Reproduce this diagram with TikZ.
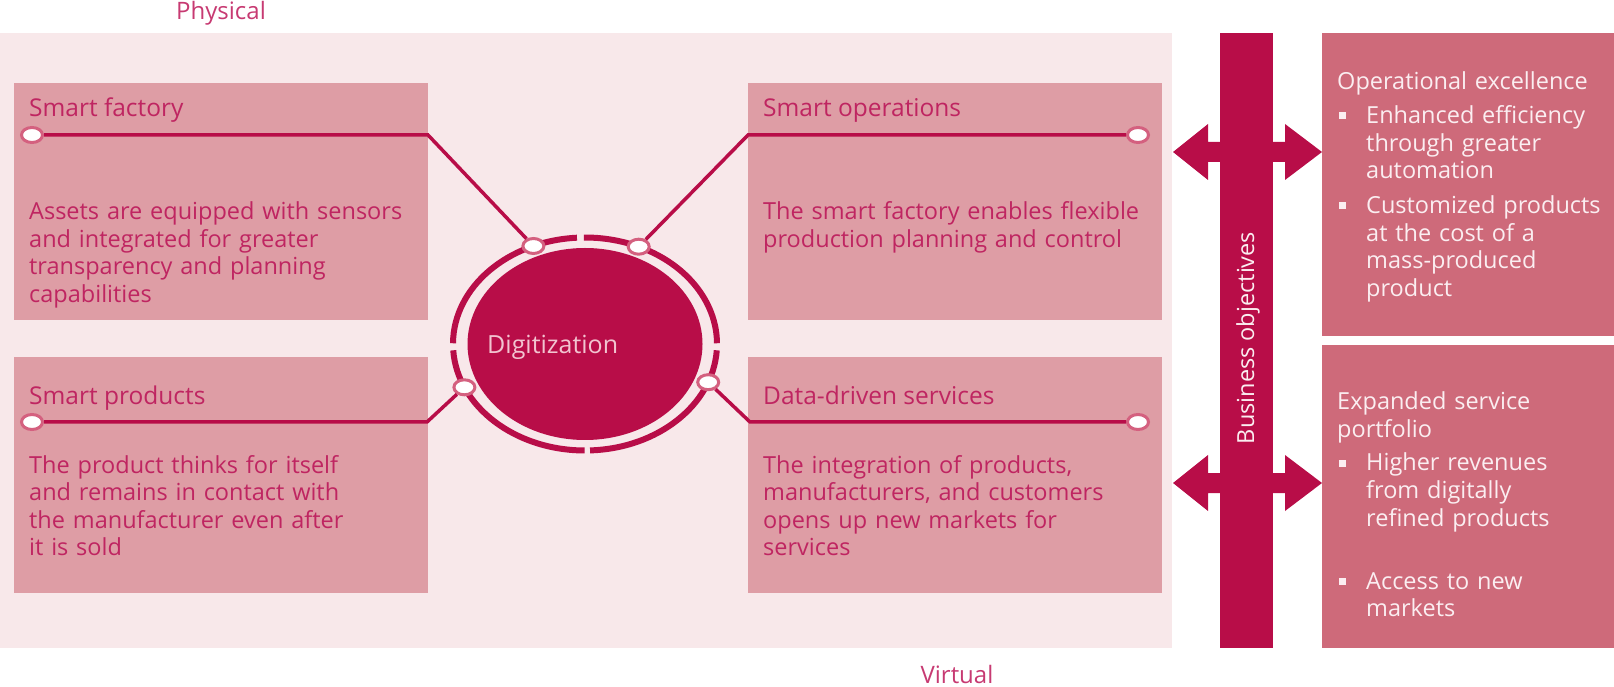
\documentclass[tikz,border=0pt]{standalone}
\usepackage{fontspec}
\setmainfont{Open Sans}
\usetikzlibrary{shapes.geometric}
\definecolor{bgpale}{HTML}{F8E8EA}
\definecolor{boxpink}{HTML}{DE9DA5}
\definecolor{dark}{HTML}{B80D48}
\definecolor{rightbox}{HTML}{CE6A7A}
\definecolor{txtpink}{HTML}{BF2561}
\definecolor{lblpink}{HTML}{C73A72}
\definecolor{dotline}{HTML}{D4607F}
\definecolor{wtxt}{HTML}{FBEEF1}
\definecolor{digtxt}{HTML}{F2C4D0}
\begin{document}
\begin{tikzpicture}[x=1pt,y=1pt,
  panel/.style={fill=boxpink, inner sep=0pt, outer sep=0pt, minimum width=414pt, minimum height=237pt, anchor=south west},
  rpanel/.style={fill=rightbox, inner sep=0pt, outer sep=0pt, minimum width=292pt, minimum height=303pt, anchor=south west},
  ttl/.style={anchor=base west, inner sep=0pt, text=txtpink, font=\fontsize{24.5}{28}\selectfont},
  body/.style={anchor=base west, inner sep=0pt, text=txtpink, text width=420pt, align=left, font=\fontsize{23.5}{27.5}\selectfont},
  wbody/.style={anchor=base west, inner sep=0pt, text=wtxt, text width=280pt, align=left, font=\fontsize{23.5}{27.5}\selectfont},
  lbl/.style={anchor=base, inner sep=0pt, text=lblpink, font=\fontsize{24}{28}\selectfont},
  conn/.style={draw=dark, line width=3.5pt},
  dot/.style={ellipse, draw=dotline, line width=3pt, fill=white, minimum width=21pt, minimum height=15pt, inner sep=0pt},
  ring/.style={draw=dark, line width=6pt},
  bullet/.style={fill=wtxt}
]
\useasboundingbox (0,0) rectangle (1614,686);
% background
\node[fill=bgpale, inner sep=0pt, outer sep=0pt, minimum width=1172pt, minimum height=615pt, anchor=south west] (bg) at (0,38) {};
% panels
\node[panel] (sfbox) at (14,366) {};
\node[panel, minimum height=236pt] (spbox) at (14,93) {};
\node[panel] (sobox) at (748,366) {};
\node[panel, minimum height=236pt] (dsbox) at (748,93) {};
% bar and right panels
\node[fill=dark, inner sep=0pt, outer sep=0pt, minimum width=53pt, minimum height=615pt, anchor=south west] (bar) at (1220,38) {};
\node[rpanel] (opbox) at (1322,350) {};
\node[rpanel] (exbox) at (1322,38) {};
% double arrows
\fill[dark] (1173,534) -- (1208,562) -- (1208,544) -- (1285,544) -- (1285,562) -- (1322,534) -- (1285,506) -- (1285,524) -- (1208,524) -- (1208,506) -- cycle;
\fill[dark] (1173,203) -- (1208,231) -- (1208,213) -- (1285,213) -- (1285,231) -- (1322,203) -- (1285,175) -- (1285,193) -- (1208,193) -- (1208,175) -- cycle;
\node[rotate=90, inner sep=0pt, text=wtxt, font=\fontsize{23.5}{27.5}\selectfont] (biz) at (1248,348) {Business objectives};
% digitization disk and ring
\node[ellipse, fill=dark, minimum width=235pt, minimum height=192pt, inner sep=0pt] (disk) at (585,342) {};
\draw[ring] (585,342) ++(0.4:132 and 106.5) arc[start angle=0.4, end angle=90.5, x radius=132, y radius=106.5];
\draw[ring] (585,342) ++(93.5:132 and 106.5) arc[start angle=93.5, end angle=179.6, x radius=132, y radius=106.5];
\draw[ring] (585,342) ++(183.4:132 and 106.5) arc[start angle=183.4, end angle=269.8, x radius=132, y radius=106.5];
\draw[ring] (585,342) ++(272.2:132 and 106.5) arc[start angle=272.2, end angle=356.6, x radius=132, y radius=106.5];
\node[anchor=base west, inner sep=0pt, text=digtxt, font=\fontsize{25}{29}\selectfont] (digit) at (487,332) {Digitization};
% dots
\node[dot] (c1) at (533.4,440.0) {};
\node[dot] (c2) at (638.7,439.3) {};
\node[dot] (c3) at (464.4,298.7) {};
\node[dot] (c4) at (708.2,303.8) {};
\node[dot] (sfdot) at (32,551) {};
\node[dot] (sodot) at (1138,551) {};
\node[dot] (spdot) at (32,264) {};
\node[dot] (dsdot) at (1138,264) {};
\coordinate (b1) at (428,551);
\coordinate (b2) at (748,551);
\coordinate (b3) at (427,264);
\coordinate (b4) at (750,264);
% connectors
\draw[conn] (sfdot) -- (b1) -- (c1);
\draw[conn] (c2) -- (b2) -- (sodot);
\draw[conn] (spdot) -- (b3) -- (c3);
\draw[conn] (c4) -- (b4) -- (dsdot);
% texts in panels
\node[ttl] (sft) at (29,569) {Smart factory};
\node[body] (sfb) at (29,466) {Assets are equipped with sensors\\and integrated for greater\\transparency and planning\\capabilities};
\node[ttl] (spt) at (29,281) {Smart products};
\node[body] (spb) at (29,213) {The product thinks for itself\\and remains in contact with\\the manufacturer even after\\it is sold};
\node[ttl] (sot) at (763,569) {Smart operations};
\node[body] (sob) at (763,466) {The smart factory enables flexible\\production planning and control};
\node[ttl] (dst) at (763,281) {Data-driven services};
\node[body] (dsb) at (763,213) {The integration of products,\\manufacturers, and customers\\opens up new markets for\\services};
% right panels text
\node[wbody] (oph) at (1337,596) {Operational excellence};
\fill[bullet] (1338.5,566.5) rectangle (1345.5,573.5);
\node[wbody, text width=250pt] (op1) at (1366,562) {Enhanced efficiency\\through greater\\automation};
\fill[bullet] (1338.5,476.5) rectangle (1345.5,483.5);
\node[wbody, text width=250pt] (op2) at (1366,472) {Customized products\\at the cost of a\\mass-produced\\product};
\node[wbody] (exh) at (1337,276) {Expanded service\\portfolio};
\fill[bullet] (1338.5,219.5) rectangle (1345.5,226.5);
\node[wbody, text width=250pt] (ex1) at (1366,215) {Higher revenues\\from digitally\\refined products};
\fill[bullet] (1338.5,101.5) rectangle (1345.5,108.5);
\node[wbody, text width=250pt] (ex2) at (1366,97) {Access to new\\markets};
% axis labels
\node[lbl] (phys) at (221,666.5) {Physical};
\node[lbl] (virt) at (957,3) {Virtual};
\end{tikzpicture}
\end{document}
